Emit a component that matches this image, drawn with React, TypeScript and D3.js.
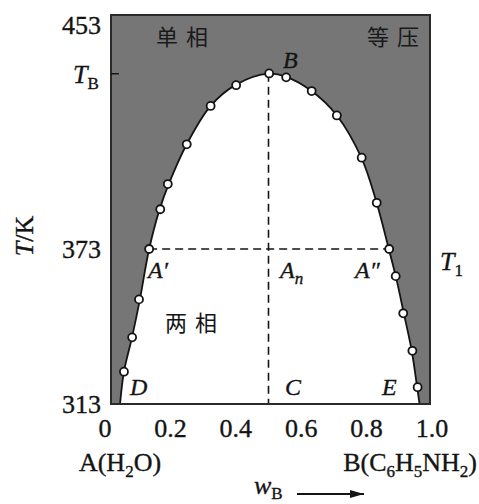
import React from "react";
import * as d3 from "d3";

// ---- data ----
const xTicks = [0, 0.2, 0.4, 0.6, 0.8, 1.0];
const xTickLabels = ["0", "0.2", "0.4", "0.6", "0.8", "1.0"];
const yTicks = [313, 373, 453];
const yTickLabels = ["313", "373", "453"];

// experimental points (w_B, T/K)
const pointW = [0.058, 0.083, 0.104, 0.135, 0.169, 0.192, 0.25, 0.323, 0.401, 0.502, 0.554, 0.632, 0.709, 0.785, 0.831, 0.869, 0.889, 0.912, 0.94, 0.956];
const pointT = [325.5, 338.8, 353.5, 373, 387.2, 396.2, 410.4, 424.1, 431.5, 435.7, 434.3, 429.4, 420.7, 405.6, 389.5, 373, 362.5, 348.1, 333.6, 319.5];

// coexistence curve (w_B, T/K)
const curveW = [0.046, 0.058, 0.083, 0.106, 0.135, 0.166, 0.196, 0.25, 0.323, 0.401, 0.5, 0.556, 0.632, 0.709, 0.784, 0.83, 0.868, 0.89, 0.914, 0.938, 0.954, 0.962];
const curveT = [313, 325.5, 339, 353, 373, 386.8, 396.5, 410.4, 424.1, 431.7, 435.6, 434.4, 429.4, 420.7, 405.6, 389.8, 373, 362, 348, 333.6, 320, 313];

const TB = 435.6;
const T1 = 373;
const wC = 0.5;
const wA1 = 0.135;
const wA2 = 0.869;

const W = 479;
const H = 504;
const box = { left: 111, right: 430, top: 15, bottom: 404 };

const serif = "'Liberation Serif', 'DejaVu Serif', serif";
const cjk = "'Noto Sans CJK SC', sans-serif";
const gray = "#767676";
const ink = "#141414";

export default function App() {
  const x = d3.scaleLinear().domain([0, 1]).range([105, 432]);
  const y = d3.scaleLinear().domain([313, 373, 453]).range([404, 249, 25]);

  const curvePts: [number, number][] = curveW.map((w, i) => [x(w), y(curveT[i])]);
  const lineGen = d3.line().curve(d3.curveCatmullRom.alpha(0.5));
  const curvePath = lineGen(curvePts) || "";
  const interior = curvePath + `L${x(curveW[curveW.length - 1])},${box.bottom}L${x(curveW[0])},${box.bottom}Z`;

  const thick = { stroke: ink, strokeWidth: 0.35 };
  const italic = { fontFamily: serif, fontStyle: "italic" as const, fill: ink, ...thick };

  return (
    <svg width={W} height={H} style={{ position: "absolute", left: 0, top: 0, background: "#fff" }}>
      {/* shaded single-phase region */}
      <rect x={box.left} y={box.top} width={box.right - box.left} height={box.bottom - box.top} fill={gray} />
      <path d={interior} fill="#fff" />
      <path d={curvePath} fill="none" stroke={ink} strokeWidth={1.8} />

      {/* dashed lines */}
      <line x1={x(wC)} x2={x(wC)} y1={y(TB)} y2={box.bottom} stroke={ink} strokeWidth={1.6} strokeDasharray="8,5" />
      <line x1={x(wA1)} x2={x(wA2)} y1={y(T1)} y2={y(T1)} stroke={ink} strokeWidth={1.6} strokeDasharray="8,5" />

      {/* border */}
      <rect x={box.left} y={box.top} width={box.right - box.left} height={box.bottom - box.top} fill="none" stroke="#2a2a2a" strokeWidth={2} />
      {/* T_B tick */}
      <line x1={box.left} x2={box.left + 8} y1={y(TB)} y2={y(TB)} stroke={ink} strokeWidth={1.5} />

      {/* points */}
      {pointW.map((w, i) => (
        <circle key={i} cx={x(w)} cy={y(pointT[i])} r={4} fill="#fff" stroke={ink} strokeWidth={1.8} />
      ))}

      {/* y tick labels */}
      {yTicks.map((t, i) => (
        <text key={t} x={101} y={y(t)} dy="0.35em" textAnchor="end" fontFamily={serif} fontSize={26} fill={ink} {...thick}>
          {yTickLabels[i]}
        </text>
      ))}
      <text x={73} y={y(TB)} dy="0.35em" {...italic} fontSize={26}>
        T<tspan fontStyle="normal" fontSize={17} dy={6}>B</tspan>
      </text>

      {/* y axis title */}
      <text transform={`translate(33,${236}) rotate(-90)`} textAnchor="middle" fontFamily={serif} fontSize={26} fill={ink} {...thick}>
        <tspan fontStyle="italic">T</tspan>/K
      </text>

      {/* x tick labels */}
      {xTicks.map((v, i) => (
        <text key={v} x={x(v)} y={428} dy="0.35em" textAnchor="middle" fontFamily={serif} fontSize={26} fill={ink} {...thick}>
          {xTickLabels[i]}
        </text>
      ))}

      {/* component labels */}
      <text x={120} y={471} textAnchor="middle" fontFamily={serif} fontSize={26} fill={ink} {...thick}>
        A(H<tspan fontSize={17} dy={6}>2</tspan><tspan dy={-6}>O)</tspan>
      </text>
      <text x={477} y={471} textAnchor="end" fontFamily={serif} fontSize={26} fill={ink} {...thick}>
        B(C<tspan fontSize={17} dy={6}>6</tspan><tspan dy={-6}>H</tspan><tspan fontSize={17} dy={6}>5</tspan><tspan dy={-6}>NH</tspan><tspan fontSize={17} dy={6}>2</tspan><tspan dy={-6}>)</tspan>
      </text>

      {/* w_B arrow */}
      <text x={254} y={494} {...italic} fontSize={26}>
        w<tspan fontStyle="normal" fontSize={17} dy={5}>B</tspan>
      </text>
      <defs>
        <marker id="ah" viewBox="0 0 10 10" refX={10} refY={5} markerWidth={14} markerHeight={8} markerUnits="userSpaceOnUse" orient="auto" preserveAspectRatio="none">
          <path d="M0,0L10,5L0,10Z" fill={ink} />
        </marker>
      </defs>
      <line x1={297} x2={364} y1={494} y2={494} stroke={ink} strokeWidth={2} markerEnd="url(#ah)" />

      {/* region labels */}
      <text x={156} y={45} fontFamily={cjk} fontSize={22} letterSpacing={8} fill="#1a1a1a">单相</text>
      <text x={367} y={45} fontFamily={cjk} fontSize={22} letterSpacing={8} fill="#1a1a1a">等压</text>
      <text x={165} y={331} fontFamily={cjk} fontSize={22} letterSpacing={8} fill={ink}>两相</text>

      {/* point labels */}
      <text x={283} y={68} {...italic} fontSize={24}>B</text>
      <text x={148} y={278} {...italic} fontSize={24}>A′</text>
      <text x={280} y={278} {...italic} fontSize={24}>
        A<tspan fontSize={17} dy={6}>n</tspan>
      </text>
      <text x={355} y={278} {...italic} fontSize={24}>A″</text>
      <text x={130} y={395} {...italic} fontSize={24}>D</text>
      <text x={285} y={395} {...italic} fontSize={24}>C</text>
      <text x={382} y={395} {...italic} fontSize={24}>E</text>
      <text x={440} y={270} {...italic} fontSize={26}>
        T<tspan fontStyle="normal" fontSize={17} dy={6}>1</tspan>
      </text>
    </svg>
  );
}
